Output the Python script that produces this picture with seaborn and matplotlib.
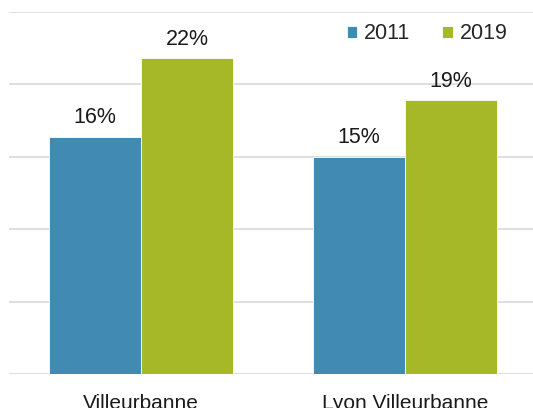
import seaborn as sns
import pandas as pd
import matplotlib.pyplot as plt

categories = ["Villeurbanne", "Lyon Villeurbanne"]
years = ["2011", "2019"]
values_2011 = [16.4, 15.0]
values_2019 = [21.8, 18.9]
labels_2011 = ["16%", "15%"]
labels_2019 = ["22%", "19%"]

df = pd.DataFrame({
    "zone": categories * 2,
    "annee": [years[0]] * 2 + [years[1]] * 2,
    "part": values_2011 + values_2019,
})

sns.set_style("white")
plt.rcParams["font.family"] = ["Liberation Sans", "DejaVu Sans"]

fig = plt.figure(figsize=(5.33, 4.08), dpi=100)
ax = fig.add_axes([9 / 533, 34 / 408, 528 / 533, 362 / 408])

palette = {"2011": "#418AB3", "2019": "#A6B727"}
sns.barplot(data=df, x="zone", y="part", hue="annee", palette=palette,
            width=0.7, gap=0, saturation=1, edgecolor="white", linewidth=0.6,
            ax=ax)

for cont, labs in zip(ax.containers, [labels_2011, labels_2019]):
    ax.bar_label(cont, labels=labs, padding=6, fontsize=15.5, color="#1a1a1a")

ax.set_xlim(-0.5, 1.5)
ax.set_ylim(0, 25)
ax.set_yticks([0, 5, 10, 15, 20, 25])
ax.yaxis.grid(True, color="#D9D9D9", linewidth=1.2)
ax.set_axisbelow(True)
ax.tick_params(axis="y", left=False, labelleft=False)
ax.tick_params(axis="x", bottom=False, labelsize=15, pad=11, colors="#1a1a1a")
ax.set_xlabel("")
ax.set_ylabel("")
for s in ax.spines.values():
    s.set_visible(False)

ax.legend(loc="upper right", bbox_to_anchor=(0.981, 1.022), ncol=2, frameon=False,
          fontsize=15.5, handlelength=0.5, handleheight=0.5, handletextpad=0.3,
          columnspacing=1.5, title=None)

fig.savefig("out.png", dpi=100)
